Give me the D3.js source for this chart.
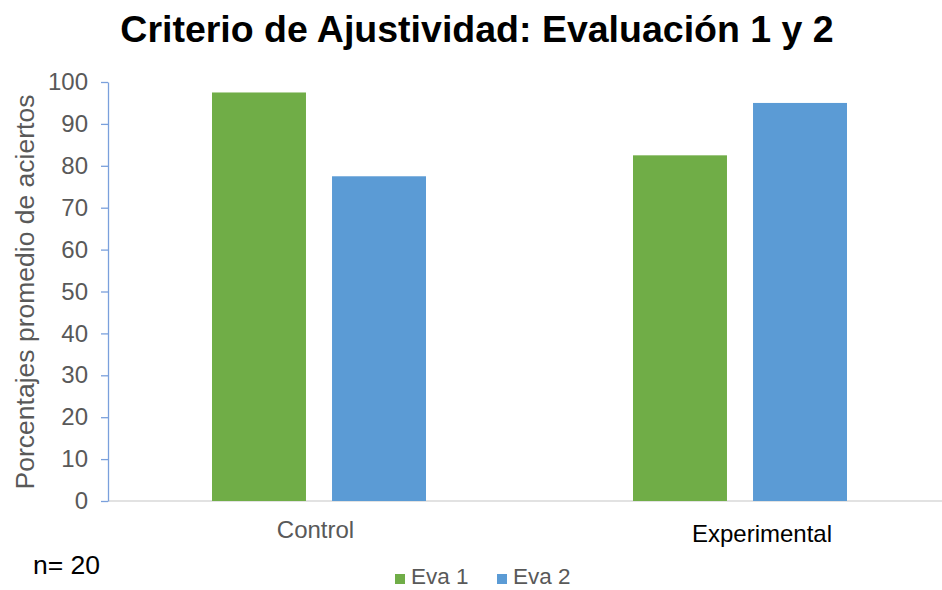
<!DOCTYPE html>
<html>
<head>
<meta charset="utf-8">
<script src="https://cdn.jsdelivr.net/npm/d3@7"></script>
<style>
  body { margin: 0; background: #fff; }
  text { font-family: "Liberation Sans", Arial, sans-serif; }
</style>
</head>
<body>
<div class="chart"></div>
<script>
var width = 942, height = 590;
var margin = {top: 82, left: 108, bottom: 89};

var groups = ["Control", "Experimental"];
var series = ["Eva 1", "Eva 2"];
var eva1 = [97.5, 82.5];
var eva2 = [77.5, 95];
var yTicks = [0, 10, 20, 30, 40, 50, 60, 70, 80, 90, 100];
var colors = ["#70ad47", "#5b9bd5"];

var svg = d3.select(".chart").append("svg")
    .attr("width", width)
    .attr("height", height);

var x = d3.scaleBand()
    .domain(groups)
    .range([margin.left, margin.left + 842]);

var inner = d3.scaleBand()
    .domain(series)
    .range([104, 318])
    .paddingInner(0.217);

var y = d3.scaleLinear()
    .domain([0, 100])
    .range([height - margin.bottom, margin.top]);

// title
svg.append("text")
    .attr("x", 477).attr("y", 42)
    .attr("text-anchor", "middle")
    .style("font-size", "37.5px")
    .style("font-weight", "bold")
    .style("fill", "#000")
    .text("Criterio de Ajustividad: Evaluación 1 y 2");

// x axis line
svg.append("line")
    .attr("x1", margin.left).attr("x2", width)
    .attr("y1", y(0)).attr("y2", y(0))
    .style("stroke", "#d9d9d9").style("stroke-width", 1.3);

// bars
var data = groups.map(function(g, i){
  return [{g: g, s: series[0], v: eva1[i]}, {g: g, s: series[1], v: eva2[i]}];
}).reduce(function(a, b){ return a.concat(b); });

svg.append("g").selectAll("rect")
    .data(data)
  .enter().append("rect")
    .attr("x", function(d){ return x(d.g) + inner(d.s); })
    .attr("y", function(d){ return y(d.v); })
    .attr("width", inner.bandwidth())
    .attr("height", function(d){ return y(0) - y(d.v); })
    .style("fill", function(d){ return colors[series.indexOf(d.s)]; });

// y axis
var yAxis = svg.append("g")
    .attr("transform", "translate(" + margin.left + ",0)")
    .call(d3.axisLeft(y).tickValues(yTicks).tickSize(7).tickPadding(13).tickSizeOuter(0));
yAxis.select(".domain").style("stroke", "#7aa0dc").style("stroke-width", 1.3);
yAxis.selectAll(".tick line").style("stroke", "#7aa0dc").style("stroke-width", 1.3);
yAxis.selectAll(".tick text")
    .style("font-size", "24px")
    .style("fill", "#595959")
    .style("font-family", "Liberation Sans, Arial, sans-serif");

// y label
svg.append("text")
    .attr("transform", "translate(34," + 292 + ") rotate(-90)")
    .attr("text-anchor", "middle")
    .style("font-size", "26.5px")
    .style("fill", "#595959")
    .text("Porcentajes promedio de aciertos");

// category labels
svg.append("text")
    .attr("x", x("Control") + x.bandwidth() / 2 - 3).attr("y", 538)
    .attr("text-anchor", "middle")
    .style("font-size", "24px")
    .style("fill", "#595959")
    .text("Control");

svg.append("text")
    .attr("x", 762).attr("y", 542)
    .attr("text-anchor", "middle")
    .style("font-size", "24px")
    .style("fill", "#000")
    .text("Experimental");

svg.append("text")
    .attr("x", 33).attr("y", 574)
    .style("font-size", "26.5px")
    .style("fill", "#000")
    .text("n= 20");

// legend
var legend = svg.append("g").attr("class", "legend");
var legX = [395, 497];
series.forEach(function(s, i){
  legend.append("rect")
      .attr("x", legX[i]).attr("y", 574)
      .attr("width", 10).attr("height", 10)
      .style("fill", colors[i]);
  legend.append("text")
      .attr("x", legX[i] + 16).attr("y", 584)
      .style("font-size", "22.5px")
      .style("fill", "#595959")
      .text(s);
});
</script>
</body>
</html>
